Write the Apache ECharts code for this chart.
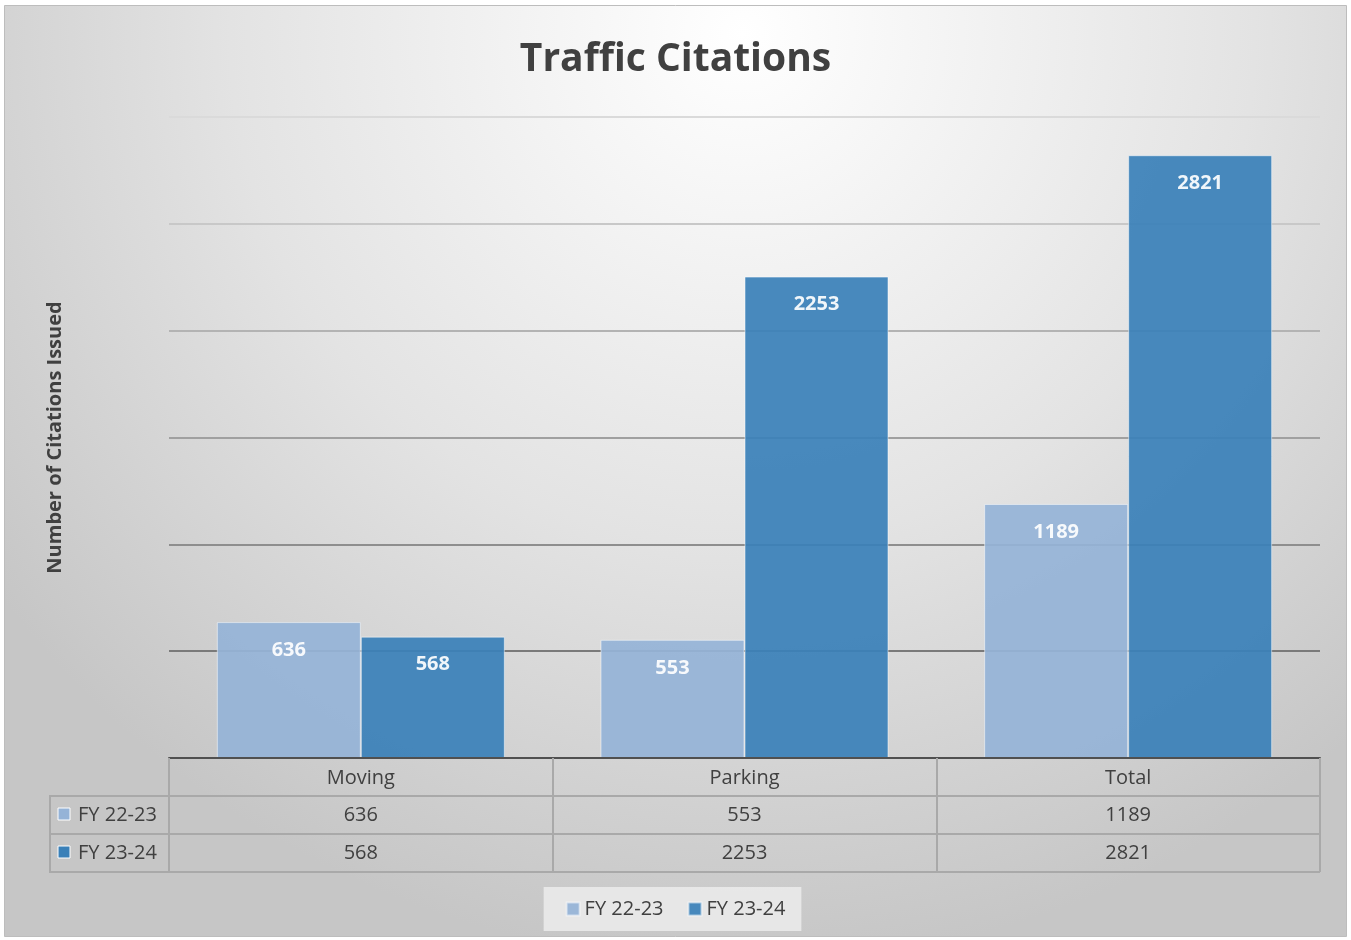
<!DOCTYPE html>
<html>
<head>
<meta charset="utf-8">
<script src="https://cdn.jsdelivr.net/npm/echarts@6/dist/echarts.min.js"></script>
<style>
html,body{margin:0;padding:0;background:#fff;}
#c{width:1351px;height:940px;}
</style>
</head>
<body>
<div id="c"></div>
<script>
const categories = ['Moving', 'Parking', 'Total'];
const seriesNames = ['FY 22-23', 'FY 23-24'];
const fy2223 = [636, 553, 1189];
const fy2324 = [568, 2253, 2821];
const seriesColors = ['#95b3d7', '#3a80b8'];

const FONT = '"Open Sans", "Noto Sans", sans-serif';
const TXT = '#404040';
const TABLE_LINE = '#a9a9a9';

const chart = echarts.init(document.getElementById('c'), null, {renderer: 'canvas'});

function tableAxis(data, offset) {
  return {
    type: 'category',
    data: data.map(String),
    position: 'bottom',
    offset: offset,
    axisLine: {show: true, lineStyle: {color: TABLE_LINE, width: 2}},
    axisTick: {show: true, length: 38, lineStyle: {color: TABLE_LINE, width: 2}},
    axisLabel: {show: true, margin: 9, fontSize: 20, color: TXT, fontFamily: FONT},
    splitLine: {show: false}
  };
}

const labelStyle = {show: true, position: 'insideTop', distance: 18, fontSize: 20, fontWeight: 'bold', color: '#ffffff', fontFamily: FONT};

const option = {
  animation: false,
  backgroundColor: '#ffffff',
  title: {
    text: 'Traffic Citations',
    left: 'center',
    top: 35,
    textStyle: {fontSize: 39, fontWeight: 'bold', color: TXT, fontFamily: FONT}
  },
  legend: {
    data: seriesNames,
    bottom: 9,
    left: 'center',
    backgroundColor: 'rgba(236,236,236,0.85)',
    padding: [12, 16, 12, 22],
    itemWidth: 13,
    itemHeight: 13,
    itemGap: 24,
    icon: 'rect',
    textStyle: {fontSize: 20, color: TXT, fontFamily: FONT}
  },
  grid: {left: 169, right: 31, top: 117, bottom: 182, containLabel: false},
  xAxis: [
    {
      type: 'category',
      data: categories,
      axisLine: {show: true, lineStyle: {color: '#505050', width: 2}},
      axisTick: {show: true, length: 38, lineStyle: {color: TABLE_LINE, width: 2}},
      axisLabel: {margin: 10, fontSize: 20, color: TXT, fontFamily: FONT},
      z: 5
    },
    tableAxis(fy2223, 38),
    tableAxis(fy2324, 76)
  ],
  yAxis: {
    type: 'value',
    min: 0,
    max: 3000,
    interval: 500,
    name: 'Number of Citations Issued',
    nameLocation: 'middle',
    nameGap: 104,
    nameTextStyle: {fontSize: 20, fontWeight: 'bold', color: TXT, fontFamily: FONT},
    axisLine: {show: false},
    axisTick: {show: false},
    axisLabel: {show: false},
    splitLine: {
      show: true,
      lineStyle: {
        width: 2,
        color: ['#505050', '#7a7a7a', '#8e8e8e', '#a0a0a0', '#b3b3b3', '#c8c8c8', '#dadada']
      }
    }
  },
  series: [
    {
      name: seriesNames[0],
      type: 'bar',
      data: fy2223,
      barWidth: 144,
      barGap: '0%',
      itemStyle: {color: seriesColors[0], opacity: 0.92, borderColor: 'rgba(255,255,255,0.55)', borderWidth: 1},
      label: labelStyle
    },
    {
      name: seriesNames[1],
      type: 'bar',
      data: fy2324,
      barWidth: 144,
      barGap: '0%',
      itemStyle: {color: seriesColors[1], opacity: 0.92, borderColor: 'rgba(255,255,255,0.55)', borderWidth: 1},
      label: labelStyle
    }
  ],
  graphic: [
    {
      type: 'rect',
      z: -100,
      silent: true,
      shape: {x: 4.5, y: 5.5, width: 1342, height: 931},
      style: {
        fill: new echarts.graphic.RadialGradient(0.55, 0.03, 1.0, [
          {offset: 0, color: '#ffffff'},
          {offset: 0.55, color: '#e3e3e3'},
          {offset: 1, color: '#c6c6c6'}
        ]),
        stroke: '#bdbdbd',
        lineWidth: 1
      }
    },
    {
      type: 'rect', z: 10, silent: true,
      shape: {x: 50, y: 796, width: 119, height: 76},
      style: {fill: 'none', stroke: TABLE_LINE, lineWidth: 2}
    },
    {
      type: 'line', z: 10, silent: true,
      shape: {x1: 50, y1: 834, x2: 169, y2: 834},
      style: {stroke: TABLE_LINE, lineWidth: 2}
    },
    {
      type: 'line', z: 10, silent: true,
      shape: {x1: 169, y1: 872, x2: 1320, y2: 872},
      style: {stroke: TABLE_LINE, lineWidth: 2}
    },
    {
      type: 'rect', z: 10, silent: true,
      shape: {x: 58, y: 808, width: 12, height: 12},
      style: {fill: seriesColors[0], stroke: '#ffffff', lineWidth: 1}
    },
    {
      type: 'rect', z: 10, silent: true,
      shape: {x: 58, y: 846, width: 12, height: 12},
      style: {fill: seriesColors[1], stroke: '#ffffff', lineWidth: 1}
    },
    {
      type: 'text', z: 10, silent: true,
      x: 78, y: 815,
      style: {text: seriesNames[0], fontSize: 20, fill: TXT, fontFamily: FONT, verticalAlign: 'middle'}
    },
    {
      type: 'text', z: 10, silent: true,
      x: 78, y: 853,
      style: {text: seriesNames[1], fontSize: 20, fill: TXT, fontFamily: FONT, verticalAlign: 'middle'}
    }
  ]
};

chart.setOption(option);
</script>
</body>
</html>
